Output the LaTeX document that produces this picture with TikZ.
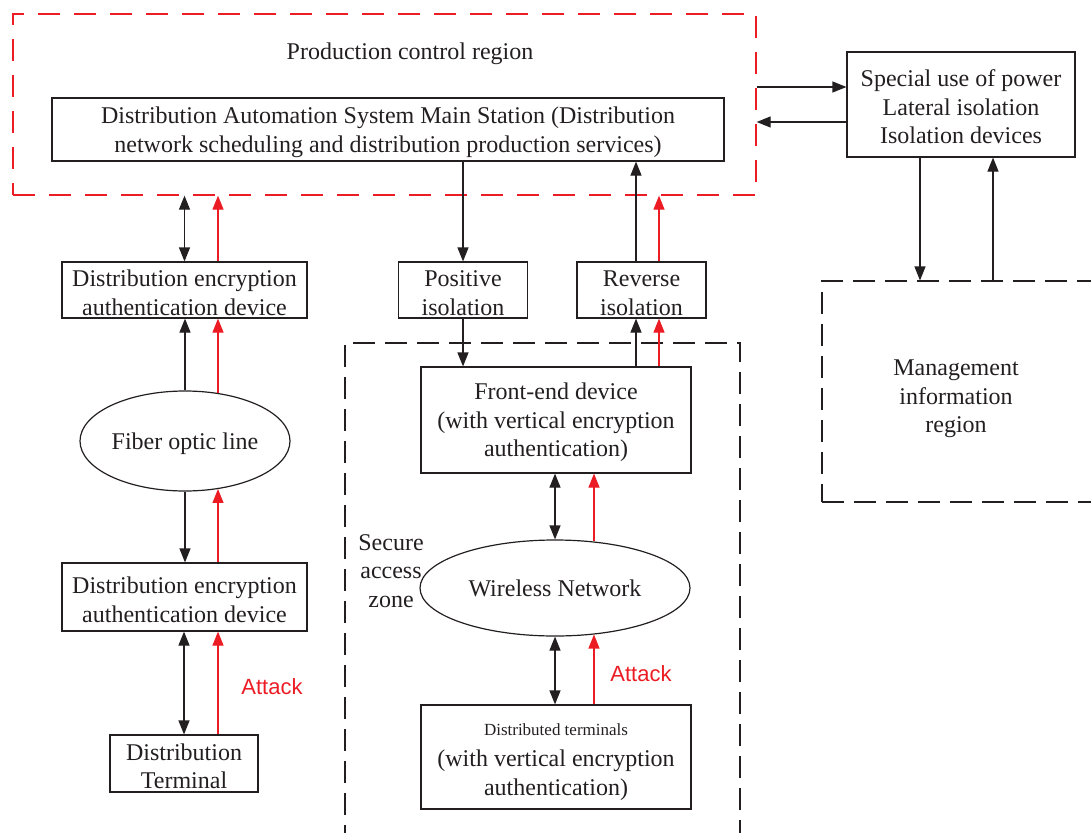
\documentclass[tikz,border=0pt]{standalone}
\usepackage{fontspec}
\setmainfont{Liberation Serif}
\newfontfamily\attackfont{Liberation Sans}
\usetikzlibrary{arrows.meta,shapes.geometric}
\definecolor{attackred}{RGB}{236,28,36}
\definecolor{linegray}{RGB}{35,31,32}
\newcommand\bodyfont{\fontsize{24}{28.5}\selectfont}
% taller first line, so that the text block sits a little lower in its box
\newcommand\firststrut{\rule{0pt}{22pt}}
\begin{document}
\begin{tikzpicture}[x=1pt,y=-1pt,
  every node/.style={font=\bodyfont, text=linegray},
  box/.style={draw=linegray, line width=1.2pt, align=center, inner sep=0pt},
  oval/.style={ellipse, draw=linegray, line width=1.2pt, align=center, inner sep=0pt},
  zone/.style={draw=linegray, line width=1.1pt, dash pattern=on 22pt off 10pt, inner sep=0pt},
  redzone/.style={draw=attackred, line width=1.3pt, dash pattern=on 22pt off 14pt, inner sep=0pt},
  tip/.tip={Triangle[length=14pt,width=11pt]},
  link/.style={draw=linegray, line width=1.2pt, -tip},
  twoway/.style={draw=linegray, line width=1.2pt, tip-tip},
  attack/.style={draw=attackred, line width=1.2pt, -tip},
  attacklabel/.style={font=\attackfont\fontsize{22}{26}\selectfont, text=attackred}
]
\useasboundingbox (0,0) rectangle (1091,832);

% regions
\node[redzone, minimum width=743pt, minimum height=181pt] (prod) at (384.5,104.5) {};
\node[zone, minimum width=395pt, minimum height=520pt] (secure) at (542.5,603) {};
\node[zone, minimum width=300pt, minimum height=221pt] (mgmt) at (972,391.5) {};
\node at (410,54) {Production control region};
\node[align=center] at (391,571) {Secure\\access\\zone};
\node[align=center] at (956,399) {Management\\information\\region};

% stations and devices
\node[box, minimum width=672pt, minimum height=63pt] (main) at (388,129.5)
  {\firststrut Distribution Automation System Main Station (Distribution\\network scheduling and distribution production services)};
\node[box, minimum width=228pt, minimum height=105pt] (spec) at (961,104.5)
  {\firststrut Special use of power\\Lateral isolation\\Isolation devices};
\node[box, minimum width=245pt, minimum height=56pt] (enc1) at (184.5,290)
  {\firststrut Distribution encryption\\authentication device};
\node[oval, minimum width=210pt, minimum height=100pt, text height=22pt] (fiber) at (185,441) {Fiber optic line};
\node[box, minimum width=245pt, minimum height=68pt] (enc2) at (184.5,597)
  {\firststrut Distribution encryption\\authentication device};
\node[box, minimum width=148pt, minimum height=57pt] (term) at (184,763.5)
  {\firststrut Distribution\\Terminal};
\node[box, minimum width=129pt, minimum height=56pt] (pos) at (463,290) {\firststrut Positive\\isolation};
\node[box, minimum width=129pt, minimum height=56pt] (rev) at (641.5,290) {\firststrut Reverse\\isolation};
\node[box, minimum width=270pt, minimum height=106pt] (front) at (556,420)
  {\firststrut Front-end device\\(with vertical encryption\\authentication)};
\node[oval, minimum width=270pt, minimum height=96pt] (wireless) at (555,588) {Wireless Network};
\node[box, minimum width=270pt, minimum height=104pt] (dterm) at (556,757)
  {\firststrut{\fontsize{17}{20}\selectfont Distributed terminals}\\[3pt](with vertical encryption\\authentication)};

% column positions of the connectors
\coordinate (xL) at (218,0);
\coordinate (xB) at (636,0);
\coordinate (xR) at (659,0);
\coordinate (xW) at (594,0);
\coordinate (xD) at (920,0);
\coordinate (xU) at (993,0);
\coordinate (yA) at (0,87);
\coordinate (yB) at (0,122);

% fiber branch
\draw[twoway] (enc1.north) -- (prod.south -| enc1.north);
\draw[attack] (enc1.north -| xL) -- (prod.south -| xL);
\draw[link] (fiber.north) -- (enc1.south -| fiber.north);
\draw[attack] (fiber.55 -| xL) -- (enc1.south -| xL);
\draw[link] (fiber.south) -- (enc2.north -| fiber.south);
\draw[attack] (enc2.north -| xL) -- (fiber.-55 -| xL);
\draw[twoway] (term.north) -- (enc2.south -| term.north);
\draw[attack] (term.north -| xL) -- (enc2.south -| xL);
\node[attacklabel] at (272,687) {Attack};

% isolation branch
\draw[link] (main.south -| pos.north) -- (pos.north);
\draw[link] (rev.north -| xB) -- (main.south -| xB);
\draw[attack] (rev.north -| xR) -- (prod.south -| xR);
\draw[link] (pos.south) -- (front.north -| pos.south);
\draw[link] (front.north -| xB) -- (rev.south -| xB);
\draw[attack] (front.north -| xR) -- (rev.south -| xR);

% wireless branch
\draw[twoway] (front.south -| wireless.north) -- (wireless.north);
\draw[attack] (wireless.50 -| xW) -- (front.south -| xW);
\draw[twoway] (wireless.south) -- (dterm.north -| wireless.south);
\draw[attack] (dterm.north -| xW) -- (wireless.-50 -| xW);
\node[attacklabel] at (641,674) {Attack};

% lateral isolation links
\draw[link] (prod.east |- yA) -- (spec.west |- yA);
\draw[link] (spec.west |- yB) -- (prod.east |- yB);
\draw[link] (spec.south -| xD) -- (mgmt.north -| xD);
\draw[link] (mgmt.north -| xU) -- (spec.south -| xU);
\end{tikzpicture}
\end{document}
